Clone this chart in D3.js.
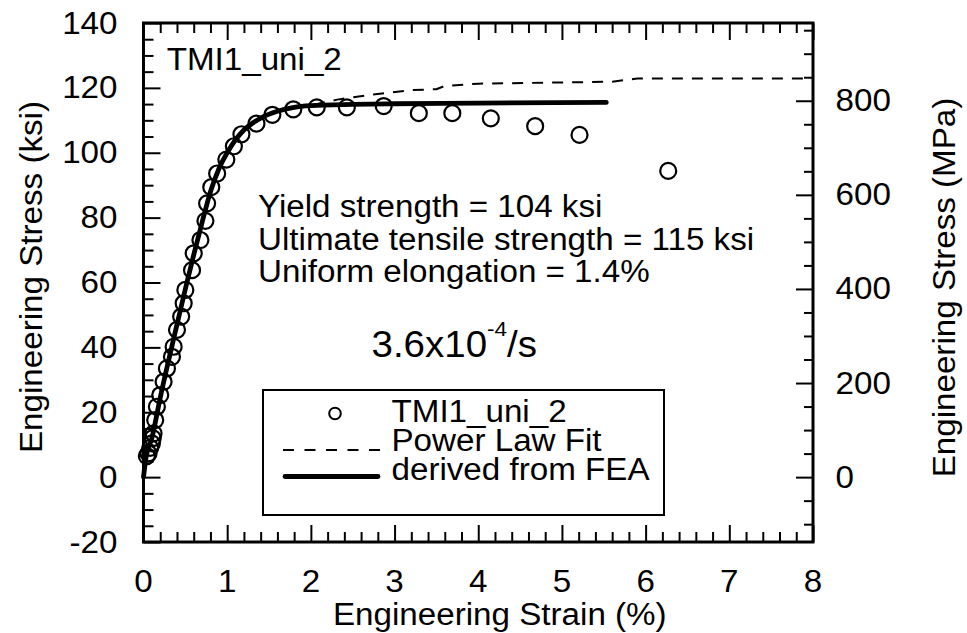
<!DOCTYPE html>
<html>
<head>
<meta charset="utf-8">
<script src="https://cdn.jsdelivr.net/npm/d3@7"></script>
<style>
  html, body { margin: 0; padding: 0; background: #fff; }
  svg { display: block; }
  text { font-family: "Liberation Sans", Arial, Helvetica, sans-serif; fill: #000; }
</style>
</head>
<body>
<svg id="chart" width="967" height="633"></svg>
<script>
// Measured test points: engineering strain (%) and engineering stress (ksi)
const testStrain = [0.04, 0.06, 0.08, 0.10, 0.11, 0.12, 0.14, 0.16, 0.20, 0.24, 0.28, 0.34, 0.36, 0.40, 0.45, 0.48, 0.50, 0.58, 0.60, 0.68, 0.74, 0.76, 0.81, 0.88, 0.99, 1.08, 1.17, 1.35, 1.54, 1.79, 2.07, 2.43, 2.87, 3.29, 3.69, 4.15, 4.68, 5.21, 6.27];
const testStress = [6.5, 7.3, 9.0, 10.4, 12.0, 13.5, 17.6, 21.7, 25.3, 29.4, 33.5, 37.1, 40.2, 45.4, 49.5, 53.6, 57.7, 63.8, 69.0, 73.1, 79.0, 84.4, 89.4, 93.6, 97.9, 102.0, 105.7, 109.0, 111.7, 113.4, 114.0, 114.0, 114.4, 112.2, 112.2, 110.6, 108.2, 105.5, 94.4];

// Curve derived from FEA
const feaStrain = [0, 0.03, 0.1, 0.2, 0.3, 0.4, 0.5, 0.6, 0.7, 0.8, 0.9, 1.0, 1.1, 1.2, 1.4, 1.6, 1.8, 2.0, 2.5, 3.0, 4.0, 5.53];
const feaStress = [0, 6, 12, 24.5, 36, 47, 58, 68.5, 78.5, 88, 95, 100, 104, 107, 110.7, 112.8, 114, 114.5, 114.9, 115.1, 115.3, 115.5];

// Power law fit
const fitStrain = [0, 0.03, 0.1, 0.2, 0.3, 0.4, 0.5, 0.6, 0.7, 0.8, 0.9, 1.0, 1.1, 1.2, 1.4, 1.6, 1.8, 2.0, 2.3, 2.5, 2.85, 3.2, 3.5, 3.6, 4.0, 5.6, 5.9, 8.0];
const fitStress = [0, 6, 12, 24.5, 36, 47, 58, 68.5, 78.5, 88, 95, 100, 104, 107, 110.7, 112.8, 114, 114.6, 116.3, 117.1, 118.3, 119.3, 119.6, 120.6, 121.3, 121.9, 122.9, 122.9];

// Axis tick labels
const xTickLabels = [0, 1, 2, 3, 4, 5, 6, 7, 8];
const ksiTickLabels = [-20, 0, 20, 40, 60, 80, 100, 120, 140];
const mpaTickLabels = [0, 200, 400, 600, 800];

// Annotation text
const sampleName = "TMI1_uni_2";
const propertyLines = [
  "Yield strength = 104 ksi",
  "Ultimate tensile strength = 115 ksi",
  "Uniform elongation = 1.4%"
];
const legendLabels = ["TMI1_uni_2", "Power Law Fit", "derived from FEA"];

const KSI_TO_MPA = 6.894757;
const SX = 1.07; // horizontal text stretch

const svg = d3.select("#chart");
svg.append("rect").attr("width", 967).attr("height", 633).attr("fill", "#fff");

const L = 143.5, R = 813, T = 23, B = 542;
const x = d3.scaleLinear().domain([0, 8]).range([L, R]);
const y = d3.scaleLinear().domain([-20, 140]).range([B, T]);
const yM = d3.scaleLinear().domain([-20 * KSI_TO_MPA, 140 * KSI_TO_MPA]).range([B, T]);

function txt(parent, px, py, s, size, anchor, rotate) {
  const t = parent.append("text")
    .attr("transform", `translate(${px},${py})` + (rotate ? ` rotate(${rotate})` : "") + ` scale(${SX},1)`)
    .attr("font-size", size)
    .attr("text-anchor", anchor || "start");
  if (s !== null) t.text(s);
  return t;
}

// ---- ticks ----
const MAJ = 17, MIN = 10;
const xMinor = d3.range(0, 8.001, 0.2).filter(v => Math.abs(v - Math.round(v)) > 1e-6);
const ksiMinor = d3.range(-20, 140.001, 5).filter(v => v % 20 !== 0);
const mpaMinor = d3.range(-100, 951, 50).filter(v => v % 200 !== 0);
const mpaMajor = [0, 200, 400, 600, 800];

function tickAxis(axis, tx, ty) {
  const g = svg.append("g").attr("transform", `translate(${tx},${ty})`).call(axis);
  g.select(".domain").remove();
  g.selectAll("text").remove();
  g.selectAll("line").attr("stroke", "#000").attr("stroke-width", 2);
  return g;
}
tickAxis(d3.axisBottom(x).tickValues(xTickLabels).tickSize(-MAJ).tickFormat(""), 0, B);
tickAxis(d3.axisBottom(x).tickValues(xMinor).tickSize(-MIN).tickFormat(""), 0, B);
tickAxis(d3.axisTop(x).tickValues(xTickLabels).tickSize(-MAJ).tickFormat(""), 0, T);
tickAxis(d3.axisTop(x).tickValues(xMinor).tickSize(-MIN).tickFormat(""), 0, T);
tickAxis(d3.axisLeft(y).tickValues(ksiTickLabels).tickSize(-MAJ).tickFormat(""), L, 0);
tickAxis(d3.axisLeft(y).tickValues(ksiMinor).tickSize(-MIN).tickFormat(""), L, 0);
tickAxis(d3.axisRight(yM).tickValues(mpaMajor).tickSize(-MAJ).tickFormat(""), R, 0);
tickAxis(d3.axisRight(yM).tickValues(mpaMinor).tickSize(-MIN + 1).tickFormat(""), R, 0);

// ---- tick labels ----
const FS = 31;
xTickLabels.forEach(v => txt(svg, x(v), 591.5, String(v), FS, "middle"));
ksiTickLabels.forEach(v => txt(svg, 117.5, y(v) + 10.5, String(v), FS, "end"));
mpaTickLabels.forEach(v => txt(svg, 835.5, yM(v) + 10.5, String(v), FS, "start"));

// ---- axis titles ----
txt(svg, 333, 625, "Engineering Strain (%)", FS, "start");
txt(svg, 42, 277, "Engineering Stress (ksi)", FS, "middle", -90);
txt(svg, 955, 287.5, "Engineering Stress (MPa)", FS, "middle", -90);

// ---- data ----
const plot = svg.append("g");
const testPts = testStrain.map((s, i) => [s, testStress[i]]);
plot.selectAll("circle.pt").data(testPts).join("circle")
  .attr("class", "pt")
  .attr("cx", d => x(d[0])).attr("cy", d => y(d[1])).attr("r", 8)
  .attr("fill", "none").attr("stroke", "#000").attr("stroke-width", 2.2);

const fitLine = d3.line().x(d => x(d[0])).y(d => y(d[1]));
plot.append("path")
  .datum(fitStrain.map((s, i) => [s, fitStress[i]]))
  .attr("d", fitLine)
  .attr("fill", "none").attr("stroke", "#000").attr("stroke-width", 2)
  .attr("stroke-dasharray", "11,9");

const feaLine = d3.line().curve(d3.curveMonotoneX).x(d => x(d[0])).y(d => y(d[1]));
plot.append("path")
  .datum(feaStrain.map((s, i) => [s, feaStress[i]]))
  .attr("d", feaLine)
  .attr("fill", "none").attr("stroke", "#000").attr("stroke-width", 4.8)
  .attr("stroke-linecap", "round").attr("stroke-linejoin", "round");

// ---- frame ----
svg.append("rect")
  .attr("x", L).attr("y", T).attr("width", R - L).attr("height", B - T)
  .attr("fill", "none").attr("stroke", "#000").attr("stroke-width", 3);

// ---- annotations ----
txt(svg, 166.7, 70, sampleName, FS, "start");
const propY = [216.5, 249.5, 281.5];
propertyLines.forEach((s, i) => txt(svg, 258, propY[i], s, FS, "start"));

const rate = txt(svg, 371.5, 356.5, null, 36, "start");
rate.append("tspan").text("3.6x10");
rate.append("tspan").attr("font-size", 21).attr("dy", -21).text("-4");
rate.append("tspan").attr("dy", 21).text("/s");

// ---- legend ----
const lg = svg.append("g");
lg.append("rect").attr("x", 263).attr("y", 390).attr("width", 401).attr("height", 125)
  .attr("fill", "#fff").attr("stroke", "#000").attr("stroke-width", 2);
lg.append("circle").attr("cx", 335).attr("cy", 413.5).attr("r", 5.8)
  .attr("fill", "none").attr("stroke", "#000").attr("stroke-width", 2);
lg.append("line").attr("x1", 283).attr("x2", 380).attr("y1", 450).attr("y2", 450)
  .attr("stroke", "#000").attr("stroke-width", 2).attr("stroke-dasharray", "11,10.5");
lg.append("line").attr("x1", 285).attr("x2", 378).attr("y1", 476.5).attr("y2", 476.5)
  .attr("stroke", "#000").attr("stroke-width", 4.8).attr("stroke-linecap", "round");
const legY = [421.5, 451, 480];
legendLabels.forEach((s, i) => txt(lg, 391.5, legY[i], s, FS, "start"));
</script>
</body>
</html>
